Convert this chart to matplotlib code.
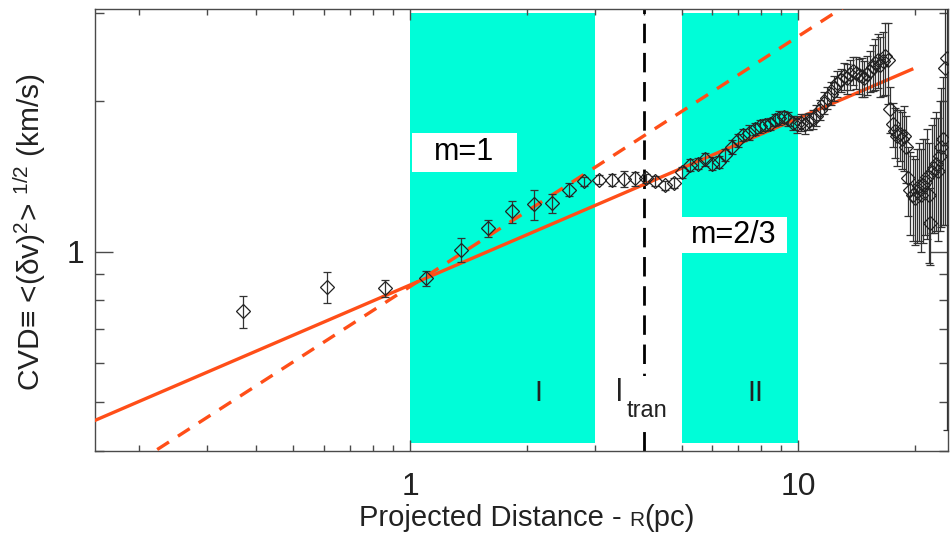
import matplotlib
matplotlib.use("Agg")
import numpy as np
import matplotlib.pyplot as plt
from matplotlib.patches import Rectangle
from matplotlib.offsetbox import TextArea, HPacker, AnnotationBbox
from matplotlib.ticker import FixedLocator, FixedFormatter, NullFormatter

# ---------------------------------------------------------------- data
R_pc = [0.37, 0.61, 0.86, 1.10, 1.35, 1.59, 1.83, 2.08, 2.32, 2.57,
        2.81, 3.06, 3.30, 3.55, 3.79, 4.04, 4.28, 4.53, 4.77, 5.02,
        5.26, 5.51, 5.75, 6.00, 6.24, 6.48, 6.73, 6.97, 7.22, 7.46,
        7.71, 7.95, 8.20, 8.44, 8.69, 8.93, 9.18, 9.42, 9.67, 9.91,
        10.15, 10.40, 10.64, 10.89, 11.13, 11.38, 11.62, 11.87, 12.11, 12.36,
        12.60, 12.85, 13.09, 13.34, 13.58, 13.83, 14.07, 14.31, 14.56, 14.80,
        15.05, 15.29, 15.54, 15.78, 16.03, 16.27, 16.52, 16.76, 17.01, 17.25,
        17.50, 17.74, 17.99, 18.23, 18.47, 18.72, 18.96, 19.21, 19.45, 19.70,
        19.94, 20.19, 20.43, 20.68, 20.92, 21.17, 21.41, 21.66, 21.90, 22.15,
        22.39, 22.63, 22.88, 23.12, 23.37, 23.61, 23.86, 24.10]

CVD = [0.760, 0.850, 0.845, 0.884, 1.008, 1.114, 1.203, 1.244, 1.250, 1.329,
       1.381, 1.392, 1.392, 1.399, 1.400, 1.400, 1.385, 1.356, 1.370, 1.440,
       1.490, 1.500, 1.530, 1.500, 1.510, 1.560, 1.620, 1.670, 1.710, 1.730,
       1.760, 1.780, 1.790, 1.800, 1.830, 1.850, 1.860, 1.840, 1.810, 1.800,
       1.810, 1.800, 1.820, 1.840, 1.870, 1.920, 1.980, 2.030, 2.070, 2.120,
       2.170, 2.200, 2.240, 2.220, 2.260, 2.300, 2.280, 2.250, 2.240, 2.220,
       2.260, 2.300, 2.340, 2.380, 2.420, 2.360, 2.400, 2.460, 2.420, 1.930,
       1.800, 1.740, 1.700, 1.720, 1.680, 1.700, 1.620, 1.400, 1.330, 1.300,
       1.280, 1.320, 1.350, 1.300, 1.360, 1.380, 1.410, 1.300, 1.140, 1.440,
       1.470, 1.500, 1.450, 1.550, 1.620, 1.680, 2.330, 2.440]

CVD_err = [0.055, 0.060, 0.033, 0.030, 0.055, 0.045, 0.062, 0.085, 0.055, 0.040,
           0.030, 0.030, 0.040, 0.050, 0.045, 0.030, 0.030, 0.030, 0.030, 0.035,
           0.040, 0.040, 0.045, 0.045, 0.040, 0.045, 0.050, 0.050, 0.050, 0.060,
           0.050, 0.050, 0.050, 0.050, 0.050, 0.060, 0.050, 0.060, 0.060, 0.070,
           0.070, 0.080, 0.070, 0.080, 0.090, 0.090, 0.100, 0.100, 0.110, 0.120,
           0.130, 0.120, 0.140, 0.150, 0.160, 0.150, 0.170, 0.180, 0.200, 0.180,
           0.200, 0.220, 0.250, 0.280, 0.300, 0.320, 0.350, 0.400, 0.450, 0.200,
           0.180, 0.200, 0.220, 0.200, 0.220, 0.250, 0.250, 0.220, 0.250, 0.250,
           0.250, 0.280, 0.300, 0.300, 0.320, 0.300, 0.350, 0.350, 0.200, 0.350,
           0.380, 0.400, 0.400, 0.450, 0.500, 0.550, 1.200, 2.000]

# power-law guides: CVD = A * R^(m/2)
m_small, A_small = 1.0, 0.852        # dashed, m = 1
m_large, A_large = 2.0 / 3.0, 0.858  # solid, m = 2/3
solid_end = 19.6

region_I = (1.0, 3.0)
region_II = (5.0, 10.0)
l_tran = 4.0

x_range = (0.154, 24.3)
y_range = (0.40, 3.05)

# ---------------------------------------------------------------- style
plt.rcParams["font.family"] = ["Liberation Sans", "DejaVu Sans"]
plt.rcParams["mathtext.fontset"] = "custom"
plt.rcParams["mathtext.rm"] = "Liberation Sans"
plt.rcParams["mathtext.it"] = "Liberation Sans"
plt.rcParams["mathtext.bf"] = "Liberation Sans"

CYAN = "#00FDD8"
ORANGE = "#FF4E18"
AXCOL = "#4a4a4a"
TXT = "#222222"

fig = plt.figure(figsize=(9.53, 5.34), dpi=100)
ax = fig.add_axes([95 / 953, 1 - 450.7 / 534, 853 / 953, 441.4 / 534])
ax.set_xscale("log")
ax.set_yscale("log")
ax.set_xlim(*x_range)
ax.set_ylim(*y_range)


def px(x, y):
    """Figure pixel (from top-left) -> axes fraction."""
    return (x - 95) / 853, (450.7 - y) / 441.4


# shaded scale ranges
for lo, hi in (region_I, region_II):
    ax.axvspan(lo, hi, ymin=0.017, ymax=0.992, color=CYAN, lw=0, zorder=0.5)

# transition scale
ax.axvline(l_tran, color="black", lw=2.0, ls=(0, (7, 3.5)), zorder=2)

# power-law guides
xs_solid = np.geomspace(x_range[0], solid_end, 200)
xs_dash = np.geomspace(x_range[0], x_range[1], 200)
ax.plot(xs_solid, A_large * xs_solid ** (m_large / 2), color=ORANGE, lw=2.4, zorder=3)
ax.plot(xs_dash, A_small * xs_dash ** (m_small / 2), color=ORANGE, lw=2.4,
        ls=(0, (4.2, 3.2)), zorder=3)

# measurements
ax.errorbar(R_pc, CVD, yerr=CVD_err, fmt="D", ms=7.5, mfc="none", mec="#222222",
            mew=0.9, ecolor="#333333", elinewidth=0.9, capsize=3, capthick=0.9,
            zorder=4)

# slope labels
for (x0, y0, x1, y1), label, tx, ty in (
        ((0.3713, 0.632, 0.4944, 0.719), "m=1", 0.4326, 0.6767),
        ((0.6878, 0.4472, 0.8109, 0.5301), "m=2/3", 0.7491, 0.4887)):
    ax.add_patch(Rectangle((x0, y0), x1 - x0, y1 - y0, transform=ax.transAxes,
                           facecolor="white", edgecolor="none", zorder=5))
    ax.text(tx, ty, label, transform=ax.transAxes, ha="center", va="center",
            fontsize=22, color="black", zorder=6)

ax.text(*px(538, 393), "I", transform=ax.transAxes, ha="center", va="center",
        fontsize=21, color=TXT, zorder=6)
ax.text(*px(755, 393), "II", transform=ax.transAxes, ha="center", va="center",
        fontsize=21, color=TXT, zorder=6)

# transition-scale label: "l" with a low-set "tran"
bx0, by0 = px(612, 424)
ax.add_patch(Rectangle((bx0, by0), 60 / 853, 48 / 441.4, transform=ax.transAxes,
                       facecolor="white", edgecolor="none", zorder=5))
ax.text(*px(619, 401), "l", transform=ax.transAxes, ha="center", va="baseline",
        fontsize=22, color=TXT, zorder=6)
ax.text(*px(627, 411), "tran", transform=ax.transAxes, ha="left", va="center",
        fontsize=17, color=TXT, zorder=6)

# axes frame and ticks
for sp in ax.spines.values():
    sp.set_color(AXCOL)
    sp.set_linewidth(1.0)
ax.xaxis.set_major_locator(FixedLocator([1, 10]))
ax.xaxis.set_major_formatter(FixedFormatter(["1", "10"]))
ax.xaxis.set_minor_locator(FixedLocator([0.2, 0.3, 0.4, 0.5, 0.6, 0.7, 0.8, 0.9,
                                         2, 3, 4, 5, 6, 7, 8, 9, 20]))
ax.xaxis.set_minor_formatter(NullFormatter())
ax.yaxis.set_major_locator(FixedLocator([1]))
ax.yaxis.set_major_formatter(FixedFormatter(["1"]))
ax.yaxis.set_minor_locator(FixedLocator([0.4, 0.5, 0.6, 0.7, 0.8, 0.9, 2, 3]))
ax.yaxis.set_minor_formatter(NullFormatter())
ax.tick_params(which="both", direction="in", top=True, right=True,
               color=AXCOL, width=1.0, labelcolor=TXT, labelsize=23)
ax.tick_params(axis="x", which="major", length=8, pad=15)
ax.tick_params(axis="x", which="minor", length=4.3)
ax.tick_params(axis="y", which="major", length=13, pad=8)
ax.tick_params(axis="y", which="minor", length=6.8)

# axis titles
fig.text(30 / 953, 1 - 232 / 534,
         r"CVD≡ <(δv)$^{2}$> $^{1/2}$ (km/s)",
         rotation=90, ha="center", va="center", fontsize=21.5, color=TXT)

parts = [TextArea("Projected Distance - ", textprops=dict(size=21, color=TXT)),
         TextArea("R", textprops=dict(size=15, color=TXT)),
         TextArea("(pc)", textprops=dict(size=21, color=TXT))]
xlabel = HPacker(children=parts, align="baseline", pad=0, sep=0)
fig.add_artist(AnnotationBbox(xlabel, (527 / 953, 1 - 518 / 534),
                              xycoords="figure fraction", frameon=False,
                              box_alignment=(0.5, 0.5)))

fig.savefig("out.png", dpi=100)
